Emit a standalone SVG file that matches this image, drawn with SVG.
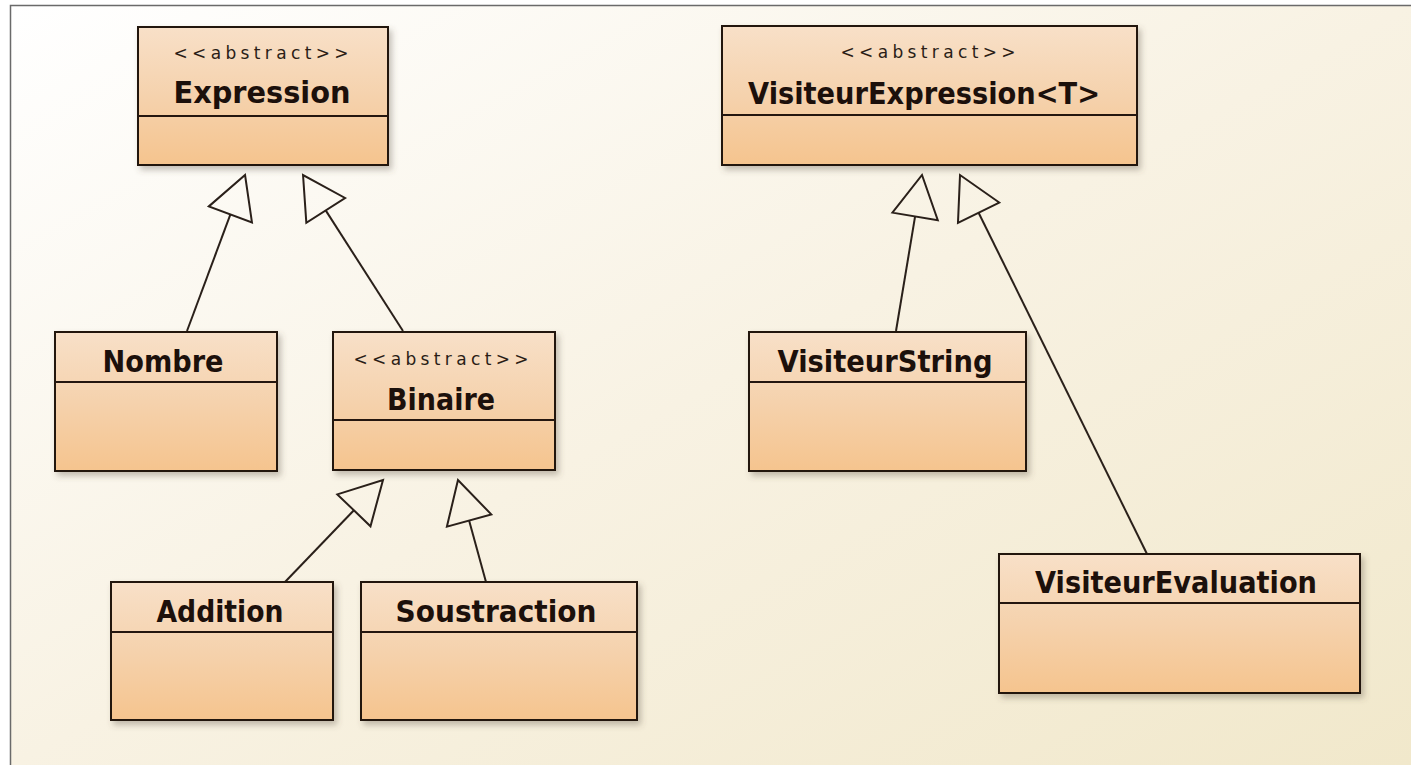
<svg xmlns="http://www.w3.org/2000/svg" width="1411" height="765" viewBox="0 0 1411 765">
  <defs>
    <linearGradient id="bg" x1="0" y1="0" x2="1" y2="1">
      <stop offset="0" stop-color="#ffffff"/>
      <stop offset="0.5" stop-color="#f8f2e3"/>
      <stop offset="1" stop-color="#f1e8cb"/>
    </linearGradient>
    <linearGradient id="boxFill" x1="0" y1="0" x2="0" y2="1">
      <stop offset="0" stop-color="#f8e0c8"/>
      <stop offset="0.5" stop-color="#f5d2ad"/>
      <stop offset="1" stop-color="#f5c48e"/>
    </linearGradient>
    <filter id="shadow" x="-10%" y="-10%" width="125%" height="130%">
      <feDropShadow dx="3" dy="4" stdDeviation="3" flood-color="#5a5040" flood-opacity="0.35"/>
    </filter>
    <!-- hollow UML generalization triangle; reference point sits on the base -->
    <marker id="inherit" markerUnits="userSpaceOnUse" markerWidth="50" markerHeight="50"
            viewBox="-2 -25 46 50" refX="0" refY="0" orient="auto" overflow="visible">
      <path d="M0,-23 L42,0 L0,23 Z" fill="none" stroke="#2a201a" stroke-width="2" stroke-linejoin="miter"/>
    </marker>
  </defs>
  <style>
    .box { fill: url(#boxFill); stroke: #24160f; stroke-width: 2; filter: url(#shadow); }
    .sep { stroke: #24160f; stroke-width: 2; }
    .name { font-family: "DejaVu Sans", "Liberation Sans", sans-serif; font-weight: bold; font-size: 30px; fill: #1c100b; text-anchor: middle; }
    .stereo { font-family: "DejaVu Sans", "Liberation Sans", sans-serif; font-size: 17px; fill: #2a1d16; text-anchor: middle; }
    .edge { stroke: #2a201a; stroke-width: 2; fill: none; marker-end: url(#inherit); }
  </style>

  <!-- canvas -->
  <rect x="0" y="0" width="1411" height="765" fill="#ffffff"/>
  <rect x="10" y="5" width="1401" height="760" fill="url(#bg)"/>
  <path d="M10.5,765 L10.5,5.5 L1411,5.5" fill="none" stroke="#6a6a6a" stroke-width="1.5"/>

  <!-- generalization connectors -->
  <g id="connectors">
    <line class="edge" x1="187" y1="331" x2="230.4" y2="214.4"/>
    <line class="edge" x1="403" y1="331" x2="325.7" y2="210.4"/>
    <line class="edge" x1="285" y1="582" x2="353.9" y2="510.3"/>
    <line class="edge" x1="486" y1="582" x2="469.1" y2="520.5"/>
    <line class="edge" x1="896" y1="331" x2="915.1" y2="216.4"/>
    <line class="edge" x1="1147" y1="554" x2="978.6" y2="212.7"/>
  </g>

  <g id="expression">
    <rect class="box" x="138" y="27" width="250" height="138"/>
    <line class="sep" x1="138" y1="116" x2="388" y2="116"/>
    <text class="stereo" x="261" y="59" textLength="175" lengthAdjust="spacing">&lt;&lt;abstract&gt;&gt;</text>
    <text class="name" x="262" y="103" textLength="177" lengthAdjust="spacingAndGlyphs">Expression</text>
  </g>

  <g id="visiteur-expression">
    <rect class="box" x="722" y="26" width="415" height="139"/>
    <line class="sep" x1="722" y1="115" x2="1137" y2="115"/>
    <text class="stereo" x="928" y="58" textLength="175" lengthAdjust="spacing">&lt;&lt;abstract&gt;&gt;</text>
    <text class="name" x="924" y="104" textLength="352" lengthAdjust="spacingAndGlyphs">VisiteurExpression&lt;T&gt;</text>
  </g>

  <g id="nombre">
    <rect class="box" x="55" y="332" width="222" height="139"/>
    <line class="sep" x1="55" y1="382" x2="277" y2="382"/>
    <text class="name" x="163" y="372" textLength="121" lengthAdjust="spacingAndGlyphs">Nombre</text>
  </g>

  <g id="binaire">
    <rect class="box" x="333" y="332" width="222" height="138"/>
    <line class="sep" x1="333" y1="420" x2="555" y2="420"/>
    <text class="stereo" x="441" y="365" textLength="175" lengthAdjust="spacing">&lt;&lt;abstract&gt;&gt;</text>
    <text class="name" x="441" y="410" textLength="108" lengthAdjust="spacingAndGlyphs">Binaire</text>
  </g>

  <g id="visiteur-string">
    <rect class="box" x="749" y="332" width="277" height="139"/>
    <line class="sep" x1="749" y1="382" x2="1026" y2="382"/>
    <text class="name" x="885" y="372" textLength="215" lengthAdjust="spacingAndGlyphs">VisiteurString</text>
  </g>

  <g id="addition">
    <rect class="box" x="111" y="582" width="222" height="138"/>
    <line class="sep" x1="111" y1="632" x2="333" y2="632"/>
    <text class="name" x="220" y="622" textLength="127" lengthAdjust="spacingAndGlyphs">Addition</text>
  </g>

  <g id="soustraction">
    <rect class="box" x="361" y="582" width="276" height="138"/>
    <line class="sep" x1="361" y1="632" x2="637" y2="632"/>
    <text class="name" x="496" y="622" textLength="201" lengthAdjust="spacingAndGlyphs">Soustraction</text>
  </g>

  <g id="visiteur-evaluation">
    <rect class="box" x="999" y="554" width="361" height="139"/>
    <line class="sep" x1="999" y1="603" x2="1360" y2="603"/>
    <text class="name" x="1176" y="593" textLength="282" lengthAdjust="spacingAndGlyphs">VisiteurEvaluation</text>
  </g>
</svg>
